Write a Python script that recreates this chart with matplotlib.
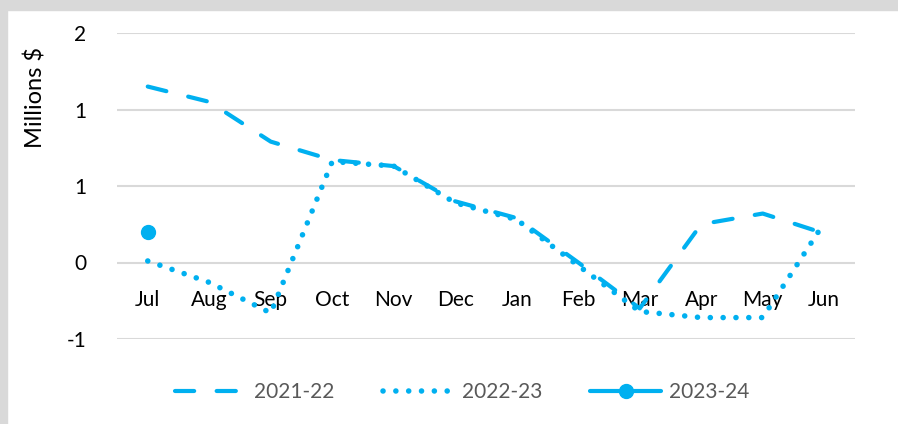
import matplotlib.pyplot as plt
from matplotlib.patches import Rectangle

months = ["Jul", "Aug", "Sep", "Oct", "Nov", "Dec", "Jan", "Feb", "Mar", "Apr", "May", "Jun"]
fy2122 = [1.15, 1.05, 0.79, 0.67, 0.63, 0.40, 0.29, 0.00, -0.30, 0.25, 0.32, 0.19]
fy2223 = [0.01, -0.13, -0.33, 0.66, 0.63, 0.39, 0.28, -0.02, -0.32, -0.36, -0.36, 0.26]
fy2324 = [0.20]
yticks = [1.5, 1.0, 0.5, 0.0, -0.5]
ytick_labels = ["2", "1", "1", "0", "-1"]

blue = "#00B0F0"
plt.rcParams['font.family'] = ['Lato', 'DejaVu Sans']

fig = plt.figure(figsize=(8.98, 4.24), dpi=100)
fig.patches.append(Rectangle((0, 1 - 10 / 424), 1, 10 / 424, transform=fig.transFigure,
                             color="#d9d9d9", zorder=0))
fig.patches.append(Rectangle((0, 0), 7 / 898, 1, transform=fig.transFigure,
                             color="#d9d9d9", zorder=0))

ax = fig.add_axes([117 / 898, 1 - 339 / 424, (855 - 117) / 898, (339 - 33) / 424])
x = list(range(len(months)))

ax.plot(x, fy2122, color=blue, lw=3, dashes=(4.6, 5.4), dash_capstyle='round',
        label="2021-22", zorder=3)
ax.plot(x, fy2223, color=blue, lw=4, dashes=(0.01, 2.3), dash_capstyle='round',
        label="2022-23", zorder=3)
ax.plot(x[:len(fy2324)], fy2324, color=blue, lw=3, marker='o', markersize=10,
        solid_capstyle='round', label="2023-24", zorder=3)

ax.set_xlim(-0.5, len(months) - 0.5)
ax.set_ylim(-0.5, 1.5)
ax.set_yticks(yticks)
ax.set_yticklabels(ytick_labels, fontsize=15)
ax.yaxis.grid(True, color="#d9d9d9", lw=1.5)
ax.set_axisbelow(True)
for s in ["top", "right", "left"]:
    ax.spines[s].set_visible(False)
ax.spines["bottom"].set_position(("data", 0))
ax.spines["bottom"].set_visible(False)
ax.tick_params(axis='y', length=0, pad=22)
ax.tick_params(axis='x', length=0, pad=20)
ax.set_xticks(x)
ax.set_xticklabels(months, fontsize=15)
ax.set_ylabel("Millions $", fontsize=17)
ax.yaxis.set_label_coords(-0.095, 0.79)

leg = fig.legend(loc="center", bbox_to_anchor=(0.515, 1 - 392 / 424), ncol=3, frameon=False,
                 fontsize=15, handlelength=3.4, columnspacing=2.3, handletextpad=0.4)
for t in leg.get_texts():
    t.set_color("#595959")

fig.savefig("out.png", dpi=100)
